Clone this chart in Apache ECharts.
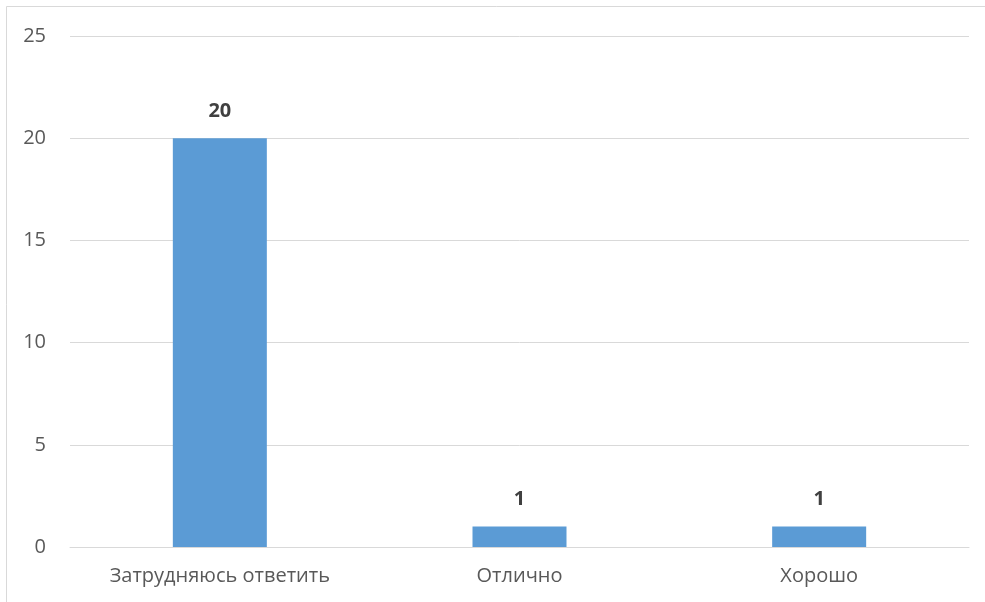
<!DOCTYPE html>
<html><head><meta charset="utf-8">
<script src="https://cdn.jsdelivr.net/npm/echarts@6/dist/echarts.min.js"></script>
<style>html,body{margin:0;padding:0;background:#fff}#c{width:985px;height:602px}</style>
</head><body><div id="c"></div>
<script>
const categories = ['Затрудняюсь ответить', 'Отлично', 'Хорошо'];
const values = [20, 1, 1];
const yTicks = [0, 5, 10, 15, 20, 25];

const chart = echarts.init(document.getElementById('c'), null, {renderer: 'canvas'});
chart.setOption({
  animation: false,
  backgroundColor: '#ffffff',
  graphic: [{
    type: 'rect', silent: true,
    shape: {x: 6.5, y: 6.5, width: 1000, height: 700},
    style: {fill: 'none', stroke: '#d9d9d9', lineWidth: 1}
  }],
  grid: {left: 70, right: 16, top: 36, bottom: 55, containLabel: false},
  xAxis: {
    type: 'category', data: categories,
    axisLine: {show: true, lineStyle: {color: '#d9d9d9', width: 1}},
    axisTick: {show: false},
    axisLabel: {color: '#595959', fontFamily: 'Open Sans', fontSize: 20, margin: 19}
  },
  yAxis: {
    type: 'value', min: yTicks[0], max: yTicks[yTicks.length - 1], interval: 5,
    axisLine: {show: false}, axisTick: {show: false},
    splitLine: {lineStyle: {color: '#d9d9d9', width: 1}},
    axisLabel: {color: '#595959', fontFamily: 'Open Sans', fontSize: 20, margin: 24}
  },
  series: [{
    type: 'bar', data: values, barWidth: 94,
    itemStyle: {color: '#5b9bd5'},
    label: {show: true, position: 'top', distance: 17, color: '#404040',
            fontFamily: 'Open Sans', fontWeight: 'bold', fontSize: 20}
  }]
});
</script></body></html>
